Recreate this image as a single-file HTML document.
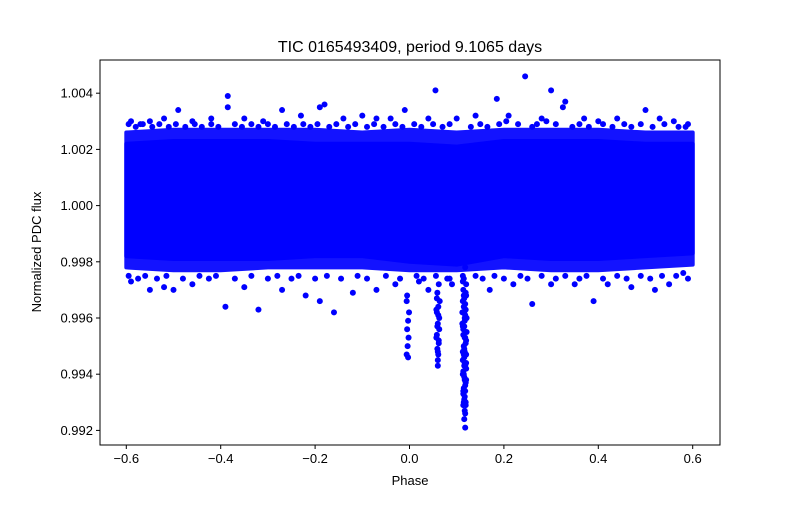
<!DOCTYPE html>
<html><head><meta charset="utf-8"><style>
body{margin:0;background:#fff}
svg text{font-family:"Liberation Sans","DejaVu Sans",sans-serif;fill:#000}
</style></head><body>
<svg id="c" width="800" height="500" xmlns="http://www.w3.org/2000/svg">
<rect width="800" height="500" fill="#fff"/>
<text x="410" y="52" font-size="16" text-anchor="middle">TIC 0165493409, period 9.1065 days</text>
<g id="marks"></g>
<rect x="100" y="60" width="620" height="385" fill="none" stroke="#000" stroke-width="1"/>
<g id="axes"></g>
<text x="410" y="485" font-size="13" text-anchor="middle">Phase</text>
<text transform="translate(41,252) rotate(-90)" font-size="13" text-anchor="middle">Normalized PDC flux</text>
</svg>
<script>
const xTicks=[-0.6,-0.4,-0.2,0.0,0.2,0.4,0.6];
const xTickLabels=["−0.6","−0.4","−0.2","0.0","0.2","0.4","0.6"];
const yTicks=[0.992,0.994,0.996,0.998,1.000,1.002,1.004];
const yTickLabels=["0.992","0.994","0.996","0.998","1.000","1.002","1.004"];
const bandPhase=[-0.6,-0.5,-0.4,-0.3,-0.2,-0.1,0.0,0.1,0.2,0.3,0.4,0.5,0.6];
const bandUpper=[1.0022,1.0023,1.0023,1.0023,1.0022,1.0022,1.0022,1.0021,1.0023,1.0023,1.0023,1.0022,1.0022];
const bandLower=[0.9982,0.9981,0.9981,0.9981,0.9982,0.9982,0.9980,0.9979,0.9982,0.9981,0.9981,0.9982,0.9983];
const fringeUpper=[1.0026,1.0027,1.0027,1.0027,1.0027,1.0026,1.0027,1.0026,1.0027,1.0027,1.0027,1.0026,1.0026];
const fringeLower=[0.9978,0.9977,0.9977,0.9978,0.9978,0.9978,0.9977,0.9977,0.9978,0.9977,0.9977,0.9978,0.9979];
const edgePhase=[-0.595,-0.58,-0.565,-0.545,-0.53,-0.51,-0.495,-0.475,-0.455,-0.44,-0.42,-0.405,-0.37,-0.355,-0.335,-0.32,-0.3,-0.285,-0.26,-0.245,-0.225,-0.21,-0.195,-0.17,-0.155,-0.13,-0.115,-0.09,-0.075,-0.055,-0.03,-0.015,0.01,0.025,0.05,0.07,0.085,0.13,0.15,0.165,0.19,0.205,0.23,0.26,0.27,0.29,0.31,0.345,0.36,0.38,0.41,0.43,0.455,0.47,0.49,0.515,0.54,0.57,0.585,
-0.595,-0.575,-0.56,-0.535,-0.515,-0.48,-0.445,-0.425,-0.41,-0.37,-0.335,-0.3,-0.28,-0.25,-0.235,-0.2,-0.175,-0.145,-0.11,-0.09,-0.05,-0.02,0.015,0.03,0.085,0.14,0.155,0.18,0.2,0.235,0.25,0.28,0.31,0.33,0.36,0.375,0.41,0.44,0.46,0.49,0.51,0.535,0.565,0.58];
const edgeFlux=[1.0029,1.0028,1.0029,1.0028,1.0029,1.0028,1.0029,1.0028,1.0029,1.0028,1.0029,1.0028,1.0029,1.0028,1.0029,1.0028,1.0029,1.0028,1.0029,1.0028,1.0029,1.0028,1.0029,1.0028,1.0029,1.0028,1.0029,1.0028,1.0029,1.0028,1.0029,1.0028,1.0029,1.0028,1.0029,1.0028,1.0029,1.0028,1.0029,1.0028,1.0029,1.0030,1.0029,1.0028,1.0029,1.0030,1.0029,1.0028,1.0029,1.0028,1.0029,1.0028,1.0029,1.0028,1.0029,1.0028,1.0029,1.0028,1.0028,
0.9975,0.9974,0.9975,0.9974,0.9975,0.9974,0.9975,0.9974,0.9975,0.9974,0.9975,0.9974,0.9975,0.9974,0.9975,0.9974,0.9975,0.9974,0.9975,0.9974,0.9975,0.9974,0.9975,0.9974,0.9974,0.9975,0.9974,0.9975,0.9974,0.9975,0.9974,0.9975,0.9974,0.9975,0.9974,0.9975,0.9974,0.9975,0.9974,0.9975,0.9974,0.9975,0.9975,0.9976];
const outlierPhase=[-0.59,-0.57,-0.55,-0.52,-0.49,-0.46,-0.42,-0.385,-0.385,-0.35,-0.31,-0.27,-0.23,-0.18,-0.19,-0.14,-0.10,-0.07,-0.04,-0.01,0.04,0.055,0.10,0.14,0.185,0.21,0.245,0.28,0.30,0.33,0.325,0.37,0.40,0.44,0.50,0.53,0.56,0.59,
-0.59,-0.55,-0.52,-0.50,-0.46,-0.39,-0.35,-0.32,-0.27,-0.22,-0.19,-0.16,-0.12,-0.07,-0.03,0.17,0.22,0.26,0.30,0.35,0.39,0.42,0.47,0.52,0.55,0.59,0.02,0.04,0.08,-0.005,0.09];
const outlierFlux=[1.0030,1.0029,1.0030,1.0031,1.0034,1.0030,1.0031,1.0039,1.0035,1.0031,1.0030,1.0034,1.0032,1.0036,1.0035,1.0031,1.0032,1.0031,1.0031,1.0034,1.0031,1.0041,1.0031,1.0032,1.0038,1.0032,1.0046,1.0031,1.0041,1.0037,1.0035,1.0031,1.0030,1.0031,1.0034,1.0031,1.0030,1.0029,
0.9973,0.9970,0.9971,0.9970,0.9972,0.9964,0.9971,0.9963,0.9970,0.9968,0.9966,0.9962,0.9969,0.9970,0.9972,0.9970,0.9972,0.9965,0.9972,0.9972,0.9966,0.9972,0.9971,0.9970,0.9972,0.9974,0.9973,0.9970,0.9974,0.9968,0.9972];
const dipPhase=[0.113,0.120,0.115,0.118,0.112,0.121,0.116,0.114,0.119,0.117,0.113,0.120,0.116,0.118,0.114,0.119,0.115,0.117,0.112,0.121,0.114,0.118,0.116,0.118,0.114,0.120,0.113,0.119,0.115,0.117,0.116,0.118,0.114,0.120,0.115,0.117,0.119,0.113,0.116,0.118,
0.113,0.119,0.115,0.117,0.114,0.120,0.116,0.118,0.113,0.119,0.115,0.117,0.114,0.120,0.116,0.118,0.115,0.117,0.116,0.113,0.120,0.115,0.118,0.117,0.116,
0.056,0.062,0.059,0.064,0.057,0.061,0.060,0.063,0.058,0.062,0.059,0.061,0.060,0.057,0.063,0.060,0.058,0.061,0.059,0.062,0.060,0.058,
-0.006,-0.003,-0.005,-0.002,-0.004,-0.006,-0.003,-0.001];
const dipFlux=[0.9975,0.9972,0.9968,0.9965,0.9962,0.9960,0.9957,0.9954,0.9951,0.9948,0.9945,0.9942,0.9939,0.9936,0.9933,0.9930,0.9940,0.9927,0.9958,0.9955,0.9970,0.9978,0.9924,0.9921,0.9934,0.9947,0.9966,0.9963,0.9950,0.9944,0.9931,0.9953,0.9941,0.9968,0.9974,0.9938,0.9929,0.9957,0.9946,0.9961,
0.9973,0.9969,0.9964,0.9959,0.9956,0.9952,0.9949,0.9943,0.9940,0.9937,0.9935,0.9932,0.9929,0.9944,0.9962,0.9926,0.9947,0.9953,0.9967,0.9948,0.9938,0.9930,0.9934,0.9960,0.9943,
0.9975,0.9972,0.9969,0.9966,0.9963,0.9961,0.9958,0.9956,0.9954,0.9951,0.9949,0.9947,0.9945,0.9953,0.9960,0.9943,0.9967,0.9964,0.9957,0.9952,0.9948,0.9962,
0.9966,0.9959,0.9956,0.9953,0.9950,0.9947,0.9946,0.9962];
const L=100,R=720,T=60,B=445;
function sx(p){return 409.5+p*472;}
function sy(f){return 205.6-(f-1)*28100;}
const NS="http://www.w3.org/2000/svg";
const marks=document.getElementById('marks'),axes=document.getElementById('axes');
function band(up,lo,name,op){
  let pts=[];
  for(let i=0;i<bandPhase.length;i++)pts.push(sx(bandPhase[i])+","+sy(up[i]));
  for(let i=bandPhase.length-1;i>=0;i--)pts.push(sx(bandPhase[i])+","+sy(lo[i]));
  const p=document.createElementNS(NS,'polygon');
  p.setAttribute('points',pts.join(' '));p.setAttribute('fill','#0000ff');p.setAttribute('opacity',op);
  p.setAttribute('stroke','#0000ff');p.setAttribute('stroke-width','4');p.setAttribute('stroke-linejoin','round');
  
  
  marks.appendChild(p);
}
band(fringeUpper,fringeLower,'band-fringe',0.92);
band(bandUpper,bandLower,'band-core',1);
function dots(ph,fl,name){
  for(let i=0;i<ph.length;i++){
    const c=document.createElementNS(NS,'circle');
    c.setAttribute('cx',sx(ph[i]));c.setAttribute('cy',sy(fl[i]));c.setAttribute('r',3);c.setAttribute('fill','#0000ff');
    
    
    marks.appendChild(c);
  }
}
dots(edgePhase,edgeFlux,'edge-point');
dots(outlierPhase,outlierFlux,'outlier-point');
dots(dipPhase,dipFlux,'dip-point');
for(let i=0;i<xTicks.length;i++){
  const x=sx(xTicks[i]);
  const l=document.createElementNS(NS,'line');
  l.setAttribute('x1',x);l.setAttribute('x2',x);l.setAttribute('y1',B);l.setAttribute('y2',B+4);l.setAttribute('stroke','#000');
  
  
  axes.appendChild(l);
  const t=document.createElementNS(NS,'text');
  t.setAttribute('x',x);t.setAttribute('y',B+18);t.setAttribute('font-size','13');t.setAttribute('text-anchor','middle');
  t.textContent=xTickLabels[i];
  
  
  axes.appendChild(t);
}
for(let i=0;i<yTicks.length;i++){
  const y=sy(yTicks[i]);
  const l=document.createElementNS(NS,'line');
  l.setAttribute('x1',L-4);l.setAttribute('x2',L);l.setAttribute('y1',y);l.setAttribute('y2',y);l.setAttribute('stroke','#000');
  
  
  axes.appendChild(l);
  const t=document.createElementNS(NS,'text');
  t.setAttribute('x',L-7);t.setAttribute('y',y+4.5);t.setAttribute('font-size','13');t.setAttribute('text-anchor','end');
  t.textContent=yTickLabels[i];
  
  
  axes.appendChild(t);
}
</script>
</body></html>
